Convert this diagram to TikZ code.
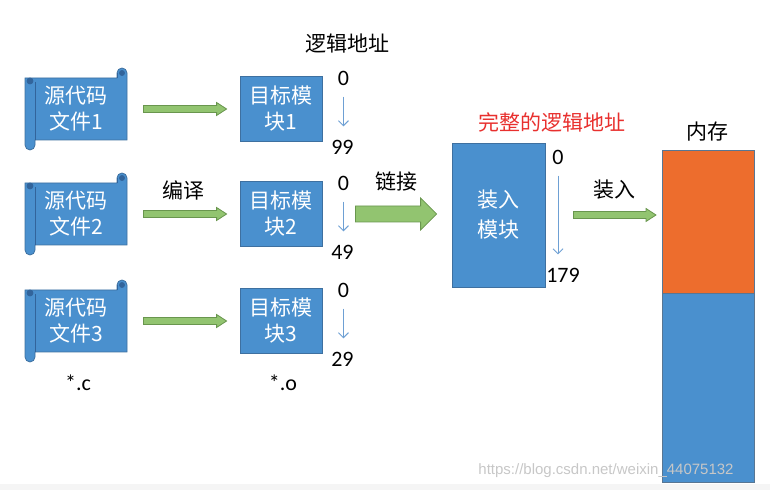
\documentclass[tikz,border=0pt]{standalone}
\usepackage{fontspec}
\setmainfont{Carlito}
\newfontfamily\cjk{Noto Sans CJK SC}
\newfontfamily\wmfont{Liberation Sans}
\usetikzlibrary{calc}
\usetikzlibrary{arrows.meta}
\usetikzlibrary{positioning}

\definecolor{boxblue}{RGB}{74,144,206}
\definecolor{boxline}{RGB}{62,112,160}
\definecolor{rollblue}{RGB}{50,100,155}
\definecolor{memorange}{RGB}{237,109,45}
\definecolor{arrgreen}{RGB}{146,196,112}
\definecolor{arrline}{RGB}{105,150,78}
\definecolor{thinblue}{RGB}{110,160,212}
\definecolor{titlered}{RGB}{232,48,46}

\tikzset{
  modbox/.style={draw=boxline, fill=boxblue, line width=.4pt, text=white, align=center,
    font=\cjk\fontsize{10.5}{13}\selectfont, minimum width=41pt, minimum height=32.5pt, inner sep=0pt},
  membox/.style={draw=boxline!60!gray, line width=.4pt, minimum width=46pt, inner sep=0pt, outer sep=0pt},
  scrollbody/.style={draw=boxline, fill=boxblue, line width=.4pt},
  rollline/.style={draw=rollblue, line width=.4pt},
  scrolltext/.style={text=white, align=center, font=\cjk\fontsize{10.5}{13}\selectfont,
    minimum width=51pt, minimum height=31pt, inner sep=0pt},
  cjklabel/.style={font=\cjk\fontsize{10.5}{13}\selectfont, inner sep=1pt},
  numlabel/.style={font=\fontsize{11}{13}\selectfont, inner sep=1pt},
  garrow/.style={fill=arrgreen, draw=arrline, line width=.4pt},
  thinarr/.style={thinblue, line width=.5pt, -{Straight Barb[length=2.5pt,width=5pt]}},
  wm/.style={font=\wmfont\fontsize{7.5}{9}\selectfont, text=black!22}
}

% fat arrow: from, to, half body, half head, head length
\newcommand{\fatarrow}[5]{%
  \filldraw[garrow] let \p1=#1, \p2=#2 in
    (\x1,\y1+#3) -- (\x2-#5,\y1+#3) -- (\x2-#5,\y1+#4) -- (\x2,\y1)
    -- (\x2-#5,\y1-#4) -- (\x2-#5,\y1-#3) -- (\x1,\y1-#3) -- cycle;}

% scroll: name, centre, text
\newcommand{\srcscroll}[3]{%
  \begin{scope}[shift={(#2)}]
    \filldraw[scrollbody] (-51,-31) -- (41,-31) -- (41,-36) arc (180:360:5)
      -- (51,31) -- (-41,31) -- (-41,36) arc (0:180:5) -- cycle;
    \draw[rollline] (-41,-27) -- (-41,31);
    \draw[rollline] (41,-36) -- (41,-31);
    \filldraw[rollline, fill=rollblue] (-46,-28) circle (3);
    \filldraw[rollline, fill=rollblue] (46,-36) circle (2.5);
    \node[scrolltext] (#1) at (0,0) {#3};
  \end{scope}}

\begin{document}
\begin{tikzpicture}[x=0.5pt, y=-0.5pt]
\useasboundingbox (0,0) rectangle (770,490);
\fill[black!4] (0,484) rectangle (770,490);

% sources and object modules
\foreach \i/\y/\lst in {1/109/99, 2/214/49, 3/321/29} {
  \srcscroll{src\i}{76,\y}{源代码\\文件\i}
  \node[modbox] (obj\i) at (281,\y) {目标模\\块\i};
  \fatarrow{($(src\i.east)+(16,0)$)}{($(obj\i.west)+(-13,0)$)}{1.75pt}{3.25pt}{5pt}
  \node[numlabel] (lo\i) at ($(obj\i.north east)+(21,2)$) {0};
  \node[numlabel] (hi\i) at ($(obj\i.south east)+(20,5)$) {\lst};
  \draw[thinarr, shorten <=4.5pt, shorten >=5.5pt] (lo\i.south) -- (lo\i.south |- hi\i.north);
}

\node[cjklabel] (logaddr) at (347,44) {逻辑地址};
\node[cjklabel] (compile) at (183,190) {编译};
\node[numlabel] (cext) at (78,383) {*.c};
\node[numlabel] (oext) at (283,383) {*.o};

% load module
\node[modbox, minimum width=46.5pt, minimum height=72pt, font=\cjk\fontsize{10.5}{15}\selectfont] (load) at (498.5,215) {装入\\模块};
\fatarrow{($(obj2.east)+(33,0)$)}{($(load.west)+(-15,0)$)}{4pt}{8pt}{8pt}
\node[cjklabel] (link) at (396,182) {链接};
\node[cjklabel, text=titlered] (fulladdr) at (552,122) {完整的逻辑地址};
\node[numlabel] (lz) at (558,157) {0};
\node[numlabel] (l179) at (563,275) {179};
\draw[thinarr, shorten <=4.5pt, shorten >=5.5pt] (lz.south) -- (lz.south |- l179.north);

% memory
\node[membox, fill=memorange, minimum height=71.5pt] (memtop) at (708,221.5) {};
\node[membox, fill=boxblue, minimum height=94.5pt, below=0pt of memtop] (membot) {};
\node[cjklabel] (memlabel) at (707,132) {内存};
\fatarrow{($(load.east)+(28,0)$)}{($(memtop.west |- load.east)+(-6,0)$)}{1.75pt}{3.25pt}{5pt}
\node[cjklabel] (loadlabel) at (614,190) {装入};

\node[wm] (mark) at (606,471) {https://blog.csdn.net/weixin\_44075132};
\end{tikzpicture}
\end{document}
